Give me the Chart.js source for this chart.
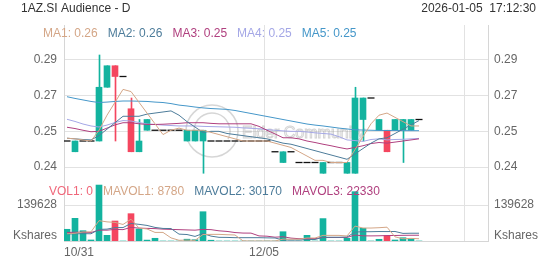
<!DOCTYPE html>
<html><head><meta charset="utf-8">
<script src="https://cdn.jsdelivr.net/npm/chart.js@4.4.1/dist/chart.umd.min.js"></script>
<style>html,body{margin:0;padding:0;background:#fff;}canvas{display:block;}</style>
</head><body>
<canvas id="c" width="552" height="265"></canvas>
<script>
// ---------- data ----------
const chartTitle = '1AZ.SI Audience - D';
const timeStamp = '2026-01-05  17:12:30';
const tickIndex = [0, 25, 50];
const tickLabels = ['10/31', '12/05', ''];
const priceTicks = [0.2877, 0.2711, 0.2545, 0.2379];
const volumeTicks = [139628];
const volumeUnit = 'Kshares';

const open  = [0.25,0.245,0.25,0.25,0.25,0.275,0.285,0.28,0.265,0.245,0.255,0.255,0.255,0.255,0.255,0.25,0.25,0.25,0.25,0.25,0.25,0.25,0.25,0.25,0.25,0.25,0.245,0.24,0.245,0.24,0.24,0.24,0.235,0.24,0.24,0.235,0.235,0.26,0.27,0.255,0.255,0.255,0.255,0.255,0.26];
const high  = [0.25,0.25,0.25,0.25,0.29,0.285,0.285,0.28,0.27,0.26,0.26,0.255,0.255,0.255,0.255,0.255,0.255,0.255,0.25,0.25,0.25,0.25,0.25,0.25,0.25,0.25,0.245,0.245,0.245,0.24,0.24,0.24,0.24,0.24,0.24,0.24,0.275,0.27,0.27,0.26,0.255,0.26,0.26,0.26,0.26];
const low   = [0.25,0.245,0.25,0.25,0.25,0.275,0.25,0.28,0.245,0.245,0.255,0.255,0.255,0.255,0.255,0.25,0.25,0.235,0.25,0.25,0.25,0.25,0.25,0.25,0.25,0.25,0.245,0.24,0.245,0.24,0.24,0.24,0.235,0.24,0.24,0.235,0.235,0.25,0.27,0.255,0.245,0.255,0.24,0.255,0.26];
const close = [0.25,0.25,0.25,0.25,0.275,0.285,0.28,0.28,0.245,0.25,0.26,0.255,0.255,0.255,0.255,0.255,0.255,0.255,0.25,0.25,0.25,0.25,0.25,0.25,0.25,0.25,0.245,0.245,0.245,0.24,0.24,0.24,0.24,0.24,0.24,0.24,0.27,0.27,0.27,0.26,0.245,0.26,0.26,0.26,0.26];
const volume = [45400,88000,40000,4000,217000,22000,77600,0,106000,46500,3500,10500,0,0,0,7000,5000,113600,3000,0,0,0,0,0,0,0,0,36000,0,0,22000,0,86900,0,0,10500,191400,49300,0,6600,20600,3900,12800,6600,0];

const ma1 = [0.2513,0.2510,0.2505,0.2500,0.255,0.262,0.268,0.274,0.273,0.268,0.263,0.258,0.253,0.255,0.256,0.255,0.255,0.255,0.254,0.253,0.252,0.251,0.25,0.25,0.25,0.25,0.249,0.248,0.247,0.245,0.243,0.241,0.241,0.24,0.24,0.24,0.246,0.252,0.258,0.262,0.263,0.261,0.259,0.257,0.257];
const ma2 = [0.2513,0.2510,0.2507,0.2505,0.2525,0.2555,0.2585,0.2615,0.2615,0.2615,0.2625,0.263,0.2635,0.264,0.262,0.259,0.2565,0.254,0.2545,0.2545,0.2535,0.253,0.2525,0.252,0.2515,0.251,0.25,0.249,0.2485,0.2475,0.2465,0.2455,0.2445,0.2435,0.2425,0.2415,0.244,0.2465,0.249,0.251,0.2515,0.2535,0.2555,0.2575,0.2595];
const ma3 = [0.2564,0.2558,0.2550,0.2543,0.2545,0.2560,0.2575,0.2585,0.2585,0.2580,0.2577,0.2577,0.2578,0.2580,0.2582,0.2585,0.2585,0.2585,0.2582,0.258,0.258,0.258,0.258,0.258,0.2568,0.255,0.2533,0.2515,0.2515,0.251,0.25,0.2493,0.2485,0.2478,0.247,0.2463,0.247,0.2478,0.2488,0.2493,0.249,0.2495,0.25,0.2505,0.251];
const ma4 = [0.2601,0.2591,0.2579,0.2570,0.2565,0.2574,0.2586,0.2595,0.2593,0.2586,0.2579,0.2577,0.2574,0.2572,0.2570,0.2570,0.2570,0.2568,0.2567,0.2566,0.2565,0.2564,0.2561,0.2559,0.2557,0.2553,0.2550,0.2547,0.2545,0.2545,0.2542,0.2538,0.2535,0.2532,0.252,0.2505,0.2502,0.2498,0.2507,0.251,0.2505,0.2507,0.2508,0.251,0.2512];
const ma5 = [0.2706,0.2698,0.2691,0.2684,0.2679,0.2681,0.2684,0.2686,0.2686,0.2685,0.2684,0.2681,0.2679,0.2674,0.2667,0.2663,0.2658,0.2654,0.2651,0.2649,0.2647,0.2642,0.2635,0.2628,0.2621,0.2614,0.2607,0.2600,0.2593,0.2586,0.2579,0.2574,0.2570,0.2565,0.2560,0.2556,0.2552,0.2551,0.2550,0.2549,0.2549,0.2549,0.2548,0.2548,0.2548];

const mavol1 = [28000,30000,35000,35500,78880,74200,72120,64120,84520,50420,46720,33300,33300,12100,2800,3500,2400,25120,25720,25720,24320,23320,600,0,0,0,0,7200,7200,7200,11600,11600,21780,21780,21780,19480,57760,50240,50240,51560,53580,16080,8780,10100,8780];
const mavol2 = [27000,28000,28500,28000,45000,46000,52000,52000,68000,64650,60460,52710,48710,48310,26610,25110,17850,29210,18910,14260,13910,12860,12860,12860,12860,12160,11660,3900,3600,3600,5800,5800,14490,14490,14490,15540,34680,36010,36010,36670,36530,36920,29510,30170,30170];
const mavol3 = [33000,34000,34000,33000,42000,42000,45000,44000,53000,50000,49000,48000,46000,45000,44000,43000,42000,45000,44000,39455,37185,32785,30785,30585,19735,18635,14755,16555,11255,8930,9855,9330,13675,13675,13675,13850,23170,19955,19805,20135,21165,21360,22000,22330,22330];

// ---------- styles ----------
const UP = '#13b39f', DOWN = '#f4465f';
const C_MA = ['#d4a687', '#4d7c9a', '#b0407f', '#a4a7e6', '#4597c9'];
const C_VOL = '#f0677a';
const GRID = '#e2e2e2', AXIS = '#d6d6d6', TXT = '#666';
const X_OFF = 0.375, WICK_OFF = 0.4375;
const FONT = 'Arial, "Liberation Sans", sans-serif';
Chart.defaults.font.family = FONT;

const n = close.length;
const idx = [...Array(n).keys()];
const isDash = i => high[i] === low[i];
const colorOf = i => close[i] < open[i] ? DOWN : UP;
const last = a => a[a.length - 1];

const bodyData = idx.filter(i => !isDash(i)).map(i => ({x: i + X_OFF, y: [open[i], close[i]], i}));
const wickData = idx.filter(i => !isDash(i)).map(i => ({x: i + WICK_OFF, y: [low[i], high[i]], i}));
const dashData = idx.filter(i => isDash(i)).map(i => ({x: i + X_OFF, y: close[i]}));
const volData = idx.map(i => ({x: i + X_OFF, y: volume[i], i}));
const line = (arr, color, axis) => ({
  type: 'line', data: arr.map((v, i) => ({x: i + X_OFF, y: v})), yAxisID: axis,
  borderColor: color, borderWidth: 1, pointRadius: 0, tension: 0, order: 0
});

const wmPlugin = {
  id: 'wm',
  beforeDatasetsDraw(chart) {
    const ctx = chart.ctx;
    ctx.save();
    ctx.strokeStyle = 'rgba(165,165,165,0.45)';
    ctx.lineWidth = 1.5;
    ctx.beginPath(); ctx.arc(212, 131, 26, 0, Math.PI * 2); ctx.stroke();
    ctx.beginPath(); ctx.arc(212, 131, 18, Math.PI * 0.85, Math.PI * 2.15); ctx.stroke();
    ctx.font = '16px ' + FONT;
    ctx.textBaseline = 'middle';
    ctx.lineWidth = 1;
    ctx.strokeStyle = 'rgba(160,160,160,0.45)';
    ctx.strokeText('Elder Community', 242, 134);
    ctx.restore();
  }
};

const textPlugin = {
  id: 'texts',
  afterDraw(chart) {
    const ctx = chart.ctx;
    ctx.save();
    ctx.font = '12px ' + FONT;
    ctx.textBaseline = 'middle';
    ctx.fillStyle = '#333';
    ctx.textAlign = 'left';
    ctx.fillText(chartTitle, 21, 9);
    ctx.textAlign = 'right';
    ctx.fillText(timeStamp, 536, 9);
    ctx.textAlign = 'left';
    const row = (items, x, y) => {
      for (const [t, c] of items) {
        ctx.fillStyle = c;
        ctx.fillText(t, x, y);
        x += ctx.measureText(t).width + 10;
      }
    };
    const mas = [ma1, ma2, ma3, ma4, ma5];
    row(mas.map((a, k) => ['MA' + (k + 1) + ': ' + last(a).toFixed(2), C_MA[k]]), 43, 34);
    row([
      ['VOL1: ' + last(volume), C_VOL],
      ['MAVOL1: ' + Math.round(last(mavol1)), C_MA[0]],
      ['MAVOL2: ' + Math.round(last(mavol2)), C_MA[1]],
      ['MAVOL3: ' + Math.round(last(mavol3)), C_MA[2]]
    ], 49, 192);
    ctx.restore();
  }
};

const kTick = 20556;
const yAxis = (pos, weight, showGrid) => ({
  type: 'linear', position: pos, stack: pos, stackWeight: 150, weight,
  min: 0.23419, max: 0.30395,
  afterBuildTicks: s => { s.ticks = priceTicks.map(v => ({value: v})); },
  afterFit: s => { s.width = 64; },
  ticks: {callback: v => v.toFixed(2), color: TXT, padding: pos === 'left' ? 7 : 6, autoSkip: false, font: {size: 12}},
  grid: {color: GRID, drawTicks: false, drawOnChartArea: showGrid},
  border: {color: AXIS}
});
const vAxis = (pos, weight, showGrid) => ({
  type: 'linear', position: pos, stack: pos, stackWeight: 66, weight,
  min: 0, max: 255985,
  afterBuildTicks: s => { s.ticks = [{value: kTick}].concat(volumeTicks.map(v => ({value: v}))); },
  afterFit: s => { s.width = 64; },
  ticks: {callback: v => v === kTick ? volumeUnit : String(v), color: TXT, padding: pos === 'left' ? 7 : 6, autoSkip: false, font: {size: 12}},
  grid: {color: c => (c.tick && c.tick.value === kTick) ? 'rgba(0,0,0,0)' : GRID, drawTicks: false, drawOnChartArea: showGrid},
  border: {color: AXIS}
});

new Chart(document.getElementById('c'), {
  type: 'bar',
  data: {
    datasets: [
      line(ma1, C_MA[0], 'y'), line(ma2, C_MA[1], 'y'), line(ma3, C_MA[2], 'y'),
      line(ma4, C_MA[3], 'y'), line(ma5, C_MA[4], 'y'),
      line(mavol1, C_MA[0], 'v'), line(mavol2, C_MA[1], 'v'), line(mavol3, C_MA[2], 'v'),
      {type: 'line', data: dashData, yAxisID: 'y', showLine: false, pointStyle: 'line',
       pointRadius: 3.5, pointBorderColor: '#111', pointBorderWidth: 1.3, order: 1},
      {type: 'bar', data: wickData, yAxisID: 'y', barThickness: 1, grouped: false,
       backgroundColor: c => colorOf(c.raw.i), order: 3},
      {type: 'bar', data: bodyData, yAxisID: 'y', barThickness: 6, grouped: false,
       backgroundColor: c => colorOf(c.raw.i), order: 2},
      {type: 'bar', data: volData, yAxisID: 'v', barThickness: 6, grouped: false,
       backgroundColor: c => colorOf(c.raw.i), order: 2}
    ]
  },
  options: {
    responsive: false, animation: false, events: [],
    layout: {padding: {top: 25, left: 0, right: 0, bottom: 0}},
    plugins: {legend: {display: false}, tooltip: {enabled: false}},
    scales: {
      x: {
        type: 'linear', position: 'bottom', min: 0, max: 53, offset: false,
        afterBuildTicks: s => { s.ticks = tickIndex.map(v => ({value: v})); },
        afterFit: s => { s.height = 24; },
        ticks: {autoSkip: false, maxRotation: 0, align: 'inner', padding: 4, color: TXT, font: {size: 12},
                callback: v => { const k = tickIndex.indexOf(v); return k >= 0 ? tickLabels[k] : ''; }},
        grid: {color: GRID, drawTicks: false, offset: false},
        border: {color: AXIS}
      },
      y: yAxis('left', 1, true),
      v: vAxis('left', 0, true),
      yR: yAxis('right', 0, false),
      vR: vAxis('right', 1, false)
    }
  },
  plugins: [wmPlugin, textPlugin]
});
</script>
</body></html>
